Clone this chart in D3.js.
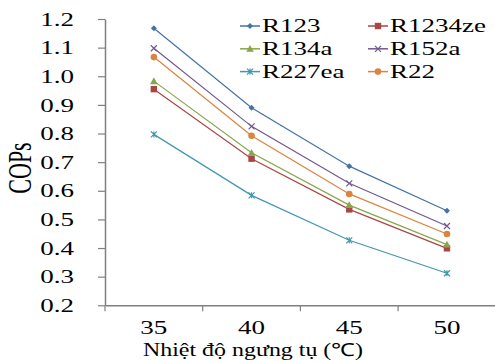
<!DOCTYPE html>
<html><head><meta charset="utf-8">
<script src="https://cdn.jsdelivr.net/npm/d3@7"></script>
<style>html,body{margin:0;padding:0;background:#fff;}svg{display:block;}</style>
</head><body>
<script>
const categories = ["35", "40", "45", "50"];
const seriesNames = ["R123", "R1234ze", "R134a", "R152a", "R227ea", "R22"];
const R123    = [1.168, 0.890, 0.686, 0.530];
const R1234ze = [0.955, 0.712, 0.535, 0.399];
const R134a   = [0.983, 0.733, 0.550, 0.412];
const R152a   = [1.098, 0.825, 0.626, 0.477];
const R227ea  = [0.797, 0.584, 0.427, 0.312];
const R22     = [1.067, 0.792, 0.589, 0.449];
const yTicks = [0.2, 0.3, 0.4, 0.5, 0.6, 0.7, 0.8, 0.9, 1.0, 1.1, 1.2];
const colors = ["#4572A7", "#AA4643", "#89A54E", "#71588F", "#4198AF", "#DB843D"];
const markers = ["diamond", "square", "triangle", "x", "star", "circle"];
const yTitle = "COPs";
const xTitle = "Nhiệt độ ngưng tụ (℃)";

const values = [R123, R1234ze, R134a, R152a, R227ea, R22];
const W = 495, H = 361, SX = 1.5;
const FONT = "Liberation Serif";
const svg = d3.select("body").append("svg").attr("width", W).attr("height", H);

const x = d3.scaleBand().domain(categories).range([105, 495.8]).padding(0);
const y = d3.scaleLinear().domain([0.2, 1.2]).range([305.3, 19]);

function styleText(sel, size) {
  sel.style("font-family", FONT).style("font-size", size + "px").attr("fill", "#000");
}

// Y axis
const gy = svg.append("g").attr("transform", "translate(105,0)")
  .call(d3.axisLeft(y).tickValues(yTicks).tickFormat(d3.format(".1f")).tickSize(7).tickSizeOuter(0));
gy.attr("font-family", null).attr("font-size", null);
gy.select(".domain").attr("stroke", "#808080").attr("stroke-width", 1.5);
gy.selectAll(".tick line").attr("stroke", "#808080").attr("stroke-width", 1.2);
gy.selectAll(".tick text").each(function(){
  const t = d3.select(this);
  styleText(t, 18);
  t.attr("x", null).attr("dy", "0.34em").attr("text-anchor", "end")
   .attr("transform", `translate(-31,0) scale(${SX},1)`);
});

// X axis
const gx = svg.append("g").attr("transform", "translate(0,305.3)")
  .call(d3.axisBottom(x).tickSize(0).tickSizeOuter(0));
gx.attr("font-family", null).attr("font-size", null);
gx.select(".domain").attr("stroke", "#808080").attr("stroke-width", 1.5);
gx.selectAll(".tick text").each(function(){
  const t = d3.select(this);
  styleText(t, 18);
  t.attr("y", null).attr("dy", null).attr("transform", `translate(0,29) scale(${SX},1)`);
});
const bounds = categories.map(c => x(c)).concat([x(categories[categories.length-1]) + x.bandwidth()]);
gx.selectAll(".btick").data(bounds).enter().append("line")
  .attr("x1", d => d).attr("x2", d => d).attr("y1", 0).attr("y2", 6)
  .attr("stroke", "#808080").attr("stroke-width", 1.2);

// titles
const xt = svg.append("text").text(xTitle);
styleText(xt, 18);
xt.attr("text-anchor", "middle").attr("transform", `translate(253,356) scale(1.33,1)`);
const yt = svg.append("text").text(yTitle);
styleText(yt, 22);
yt.attr("text-anchor", "middle").attr("transform", `translate(31,168) scale(${SX},1) rotate(-90)`);

function drawMarker(g, type, color, cx, cy) {
  const s = 3;
  if (type === "diamond") g.append("path").attr("d", `M${cx},${cy-s}L${cx+s},${cy}L${cx},${cy+s}L${cx-s},${cy}Z`).attr("fill", color);
  else if (type === "square") g.append("rect").attr("x", cx-3.2).attr("y", cy-3.2).attr("width", 6.4).attr("height", 6.4).attr("fill", color);
  else if (type === "triangle") g.append("path").attr("d", `M${cx},${cy-3.8}L${cx+3.8},${cy+3}L${cx-3.8},${cy+3}Z`).attr("fill", color);
  else if (type === "circle") g.append("circle").attr("cx", cx).attr("cy", cy).attr("r", 3.3).attr("fill", color);
  else if (type === "x") g.append("path").attr("d", `M${cx-3},${cy-3}L${cx+3},${cy+3}M${cx-3},${cy+3}L${cx+3},${cy-3}`).attr("stroke", color).attr("stroke-width", 1.2);
  else if (type === "star") g.append("path").attr("d", `M${cx-3},${cy-3}L${cx+3},${cy+3}M${cx-3},${cy+3}L${cx+3},${cy-3}M${cx},${cy-3}L${cx},${cy+3}`).attr("stroke", color).attr("stroke-width", 1.2);
}

const line = d3.line().x((d,i) => x(categories[i]) + x.bandwidth()/2).y(d => y(d));
values.forEach((vals, si) => {
  const g = svg.append("g");
  g.append("path").datum(vals).attr("d", line).attr("fill", "none")
    .attr("stroke", colors[si]).attr("stroke-width", 1.2);
  vals.forEach((v, i) => drawMarker(g, markers[si], colors[si], x(categories[i]) + x.bandwidth()/2, y(v)));
});

// legend
const leg = svg.append("g");
seriesNames.forEach((name, i) => {
  const col = i % 2, row = Math.floor(i / 2);
  const lx = col === 0 ? 240 : 368, ly = 26 + row * 22.8;
  const g = leg.append("g");
  g.append("line").attr("x1", lx).attr("x2", lx + 20).attr("y1", ly).attr("y2", ly)
    .attr("stroke", colors[i]).attr("stroke-width", 1.5);
  drawMarker(g, markers[i], colors[i], lx + 10, ly);
  const t = g.append("text").text(name);
  styleText(t, 18);
  t.attr("transform", `translate(${lx + 22},${ly + 6.3}) scale(${SX},1)`);
});
</script>
</body></html>
